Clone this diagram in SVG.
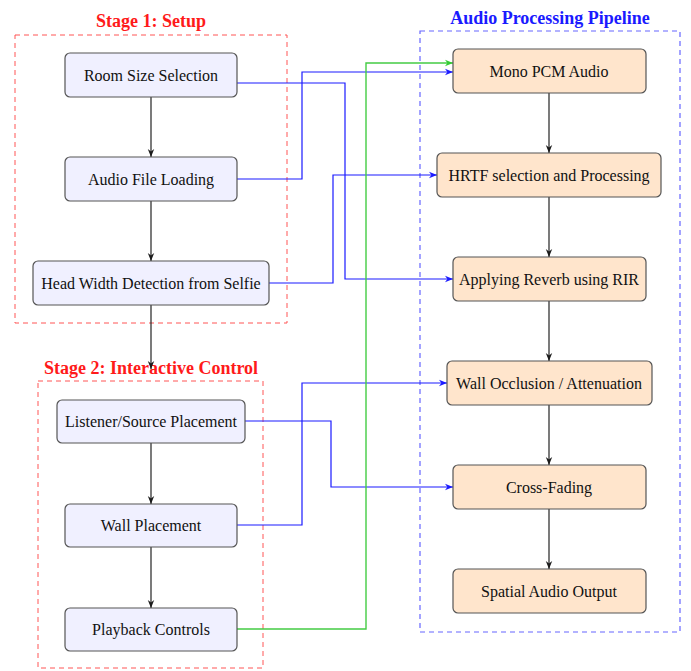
<svg xmlns="http://www.w3.org/2000/svg" width="691" height="671" viewBox="0 0 691 671">
<defs>
<marker id="ab" viewBox="0 0 10 10" refX="10" refY="5" markerWidth="8" markerHeight="8" markerUnits="userSpaceOnUse" orient="auto"><path d="M0,1 L10,5 L0,9 L3,5 Z" fill="#1a1a1a"/></marker>
<marker id="abl" viewBox="0 0 10 10" refX="10" refY="5" markerWidth="8" markerHeight="8" markerUnits="userSpaceOnUse" orient="auto"><path d="M0,1 L10,5 L0,9 L3,5 Z" fill="#1a1aff"/></marker>
<marker id="agr" viewBox="0 0 10 10" refX="10" refY="5" markerWidth="8" markerHeight="8" markerUnits="userSpaceOnUse" orient="auto"><path d="M0,1 L10,5 L0,9 L3,5 Z" fill="#33cc33"/></marker>
</defs>
<style>
text{font-family:"Liberation Serif","DejaVu Serif",serif;font-size:16px;fill:#111;text-anchor:middle;dominant-baseline:central}
.title{font-weight:bold;font-size:18px}
.ln rect{fill:#f0f0ff;stroke:#555;stroke-width:1.2}
.rn rect{fill:#ffe5cc;stroke:#555;stroke-width:1.2}
.v{stroke:#222;stroke-width:1.2;fill:none;marker-end:url(#ab)}
.b{stroke:#1a1aff;stroke-width:1.2;fill:none;marker-end:url(#abl)}
.g{stroke:#44cc44;stroke-width:1.4;fill:none;marker-end:url(#agr)}
</style>
<rect width="691" height="671" fill="#fff"/>
<g id="stage1">
<rect x="15" y="35" width="272" height="288" fill="none" stroke="#ff5555" stroke-width="1" stroke-dasharray="5,4"/>
<text class="title" x="151" y="21" style="fill:#ff1a1a">Stage 1: Setup</text>
</g>
<g id="stage2">
<rect x="38" y="381" width="225" height="287" fill="none" stroke="#ff5555" stroke-width="1" stroke-dasharray="5,4"/>
<text class="title" x="151" y="368" style="fill:#ff1a1a">Stage 2: Interactive Control</text>
</g>
<g id="pipeline">
<rect x="420" y="31" width="260" height="601" fill="none" stroke="#6666ff" stroke-width="1.2" stroke-dasharray="5,4"/>
<text class="title" x="550" y="18" style="fill:#1a1aff">Audio Processing Pipeline</text>
</g>
<g id="connectors">
<path class="v" d="M151,97 V157"/>
<path class="v" d="M151,201 V261"/>
<path class="v" d="M151,305 V369"/>
<path class="v" d="M151,443 V504"/>
<path class="v" d="M151,547 V608"/>
<path class="v" d="M549,93 V153"/>
<path class="v" d="M549,197 V257"/>
<path class="v" d="M549,301 V361"/>
<path class="v" d="M549,405 V465"/>
<path class="v" d="M549,509 V569"/>
<path class="b" d="M237,83 H345 V279 H453"/>
<path class="b" d="M237,179 H302 V72 H453"/>
<path class="b" d="M269,283 H333 V175 H437"/>
<path class="b" d="M245,421 H331 V487 H453"/>
<path class="b" d="M237,525 H302 V383 H447"/>
<path class="g" d="M237,629 H366 V63 H453"/>
</g>
<g id="room" class="ln"><rect x="65" y="53" width="172" height="44" rx="5"/><text x="151" y="75">Room Size Selection</text></g>
<g id="audiofile" class="ln"><rect x="65" y="157" width="172" height="44" rx="5"/><text x="151" y="179">Audio File Loading</text></g>
<g id="headwidth" class="ln"><rect x="33" y="261" width="236" height="44" rx="5"/><text x="151" y="283">Head Width Detection from Selfie</text></g>
<g id="listener" class="ln"><rect x="57" y="400" width="188" height="43" rx="5"/><text x="151" y="421">Listener/Source Placement</text></g>
<g id="wall" class="ln"><rect x="65" y="504" width="172" height="43" rx="5"/><text x="151" y="525">Wall Placement</text></g>
<g id="playback" class="ln"><rect x="65" y="608" width="172" height="43" rx="5"/><text x="151" y="629">Playback Controls</text></g>
<g id="mono" class="rn"><rect x="453" y="49" width="193" height="44" rx="5"/><text x="549" y="71">Mono PCM Audio</text></g>
<g id="hrtf" class="rn"><rect x="437" y="153" width="224" height="44" rx="5"/><text x="549" y="175">HRTF selection and Processing</text></g>
<g id="reverb" class="rn"><rect x="453" y="257" width="193" height="44" rx="5"/><text x="549" y="279">Applying Reverb using RIR</text></g>
<g id="occlusion" class="rn"><rect x="447" y="361" width="205" height="44" rx="5"/><text x="549" y="383">Wall Occlusion / Attenuation</text></g>
<g id="crossfade" class="rn"><rect x="453" y="465" width="193" height="44" rx="5"/><text x="549" y="487">Cross-Fading</text></g>
<g id="output" class="rn"><rect x="453" y="569" width="193" height="44" rx="5"/><text x="549" y="591">Spatial Audio Output</text></g>
</svg>
